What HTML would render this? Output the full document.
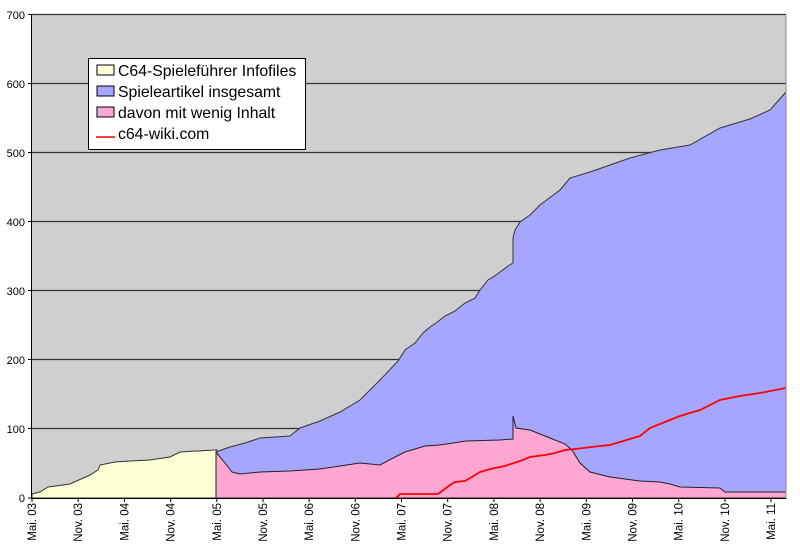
<!DOCTYPE html><html><head><style>body{margin:0;background:#fff}svg{display:block}text{font-family:"Liberation Sans",sans-serif}</style></head><body>
<svg width="800" height="548" viewBox="0 0 800 548">
<rect x="0" y="0" width="800" height="548" fill="#fff"/>
<rect x="32" y="14" width="754" height="484" fill="#cfcfcf"/>
<g stroke="#333" stroke-width="1.2">
<line x1="32" y1="14.5" x2="786" y2="14.5"/><line x1="32" y1="83.5" x2="786" y2="83.5"/><line x1="32" y1="152.5" x2="786" y2="152.5"/><line x1="32" y1="221.5" x2="786" y2="221.5"/><line x1="32" y1="290.5" x2="786" y2="290.5"/><line x1="32" y1="359.5" x2="786" y2="359.5"/><line x1="32" y1="428.5" x2="786" y2="428.5"/></g>
<polygon fill="#ffffd8" stroke="#333" stroke-width="1" points="32,498 32,494 40,492 48,487 70,484 90,475 98,470 100,465 115,462 130,461 150,460 170,457 180,452 215,450 217,450 217,498"/>
<polygon fill="#a6a6ff" stroke="#333" stroke-width="1" points="216,498 216,452 230,447 245,443 260,438 290,436 300,428 320,421 340,412 360,400 380,380 398,361 405,350 415,343 423,333 430,327 436,323 445,316 455,311 465,303 475,298 480,290 488,280 493,277 500,272 508,266 513,263 513,238 515,230 520,222 530,215 540,205 560,190 570,178 590,172 610,165 630,158 660,150 690,145 720,128 750,119 770,110 786,92 786,498"/>
<polygon fill="#ffa6d3" stroke="#222" stroke-width="1" points="216,498 216,452 225,463 232,472 240,474 260,472 290,471 320,469 340,466 360,463 380,465 395,457 405,452 425,446 440,445 466,441 500,440 513,439 513,416 516,428 530,430 540,434 550,438 565,444 572,450 580,463 590,472 610,477 640,481 660,482 670,484 680,487 720,488 725,492 786,492 786,498"/>
<polyline fill="none" stroke="#ff0000" stroke-width="1.8" points="396,498 400,494 438,494 450,485 455,482 465,481 475,475 480,472 490,469 505,466 514,463 520,461 530,457 545,455 555,453 565,450 575,449 600,446 610,445 620,442 630,439 640,436 650,428 660,424 680,416 700,410 720,400 740,396 760,393 786,388"/>
<line x1="786" y1="14" x2="786" y2="498" stroke="#888"/>
<line x1="31.5" y1="14" x2="31.5" y2="498" stroke="#000"/>
<line x1="31" y1="498.5" x2="786" y2="498.5" stroke="#000"/>
<g stroke="#000">
<line x1="28" y1="14.5" x2="32" y2="14.5"/><line x1="28" y1="83.5" x2="32" y2="83.5"/><line x1="28" y1="152.5" x2="32" y2="152.5"/><line x1="28" y1="221.5" x2="32" y2="221.5"/><line x1="28" y1="290.5" x2="32" y2="290.5"/><line x1="28" y1="359.5" x2="32" y2="359.5"/><line x1="28" y1="428.5" x2="32" y2="428.5"/><line x1="28" y1="498" x2="32" y2="498"/>
<line x1="32" y1="498" x2="32" y2="502"/><line x1="78.2" y1="498" x2="78.2" y2="502"/><line x1="124.4" y1="498" x2="124.4" y2="502"/><line x1="170.6" y1="498" x2="170.6" y2="502"/><line x1="216.8" y1="498" x2="216.8" y2="502"/><line x1="263" y1="498" x2="263" y2="502"/><line x1="309.1" y1="498" x2="309.1" y2="502"/><line x1="355.3" y1="498" x2="355.3" y2="502"/><line x1="401.5" y1="498" x2="401.5" y2="502"/><line x1="447.7" y1="498" x2="447.7" y2="502"/><line x1="493.9" y1="498" x2="493.9" y2="502"/><line x1="540.1" y1="498" x2="540.1" y2="502"/><line x1="586.3" y1="498" x2="586.3" y2="502"/><line x1="632.5" y1="498" x2="632.5" y2="502"/><line x1="678.7" y1="498" x2="678.7" y2="502"/><line x1="724.9" y1="498" x2="724.9" y2="502"/><line x1="771" y1="498" x2="771" y2="502"/>
</g>
<g font-size="11" fill="#000" text-anchor="end">
<text x="25" y="19">700</text><text x="25" y="88">600</text><text x="25" y="157">500</text><text x="25" y="226">400</text><text x="25" y="295">300</text><text x="25" y="364">200</text><text x="25" y="433">100</text><text x="25" y="502">0</text>
</g>
<g font-size="11.5" fill="#000" text-anchor="end">
<text transform="translate(36,503) rotate(-90)">Mai. 03</text>
<text transform="translate(82.2,503) rotate(-90)">Nov. 03</text>
<text transform="translate(128.4,503) rotate(-90)">Mai. 04</text>
<text transform="translate(174.6,503) rotate(-90)">Nov. 04</text>
<text transform="translate(220.8,503) rotate(-90)">Mai. 05</text>
<text transform="translate(267,503) rotate(-90)">Nov. 05</text>
<text transform="translate(313.1,503) rotate(-90)">Mai. 06</text>
<text transform="translate(359.3,503) rotate(-90)">Nov. 06</text>
<text transform="translate(405.5,503) rotate(-90)">Mai. 07</text>
<text transform="translate(451.7,503) rotate(-90)">Nov. 07</text>
<text transform="translate(497.9,503) rotate(-90)">Mai. 08</text>
<text transform="translate(544.1,503) rotate(-90)">Nov. 08</text>
<text transform="translate(590.3,503) rotate(-90)">Mai. 09</text>
<text transform="translate(636.5,503) rotate(-90)">Nov. 09</text>
<text transform="translate(682.7,503) rotate(-90)">Mai. 10</text>
<text transform="translate(728.9,503) rotate(-90)">Nov. 10</text>
<text transform="translate(775,503) rotate(-90)">Mai. 11</text>
</g>
<rect x="88.5" y="58.5" width="217" height="91" fill="#fff" stroke="#000"/>
<rect x="97" y="65" width="17" height="10" fill="#ffffd8" stroke="#000"/>
<rect x="97" y="86" width="17" height="10" fill="#a6a6ff" stroke="#000"/>
<rect x="97" y="107" width="17" height="10" fill="#ffa6d3" stroke="#000"/>
<line x1="96" y1="137" x2="115" y2="137" stroke="#f00" stroke-width="1.5"/>
<g font-size="15.8" fill="#000">
<text x="118" y="76">C64-Spieleführer Infofiles</text>
<text x="118" y="97">Spieleartikel insgesamt</text>
<text x="118" y="118">davon mit wenig Inhalt</text>
<text x="118" y="139">c64-wiki.com</text>
</g>
</svg></body></html>
